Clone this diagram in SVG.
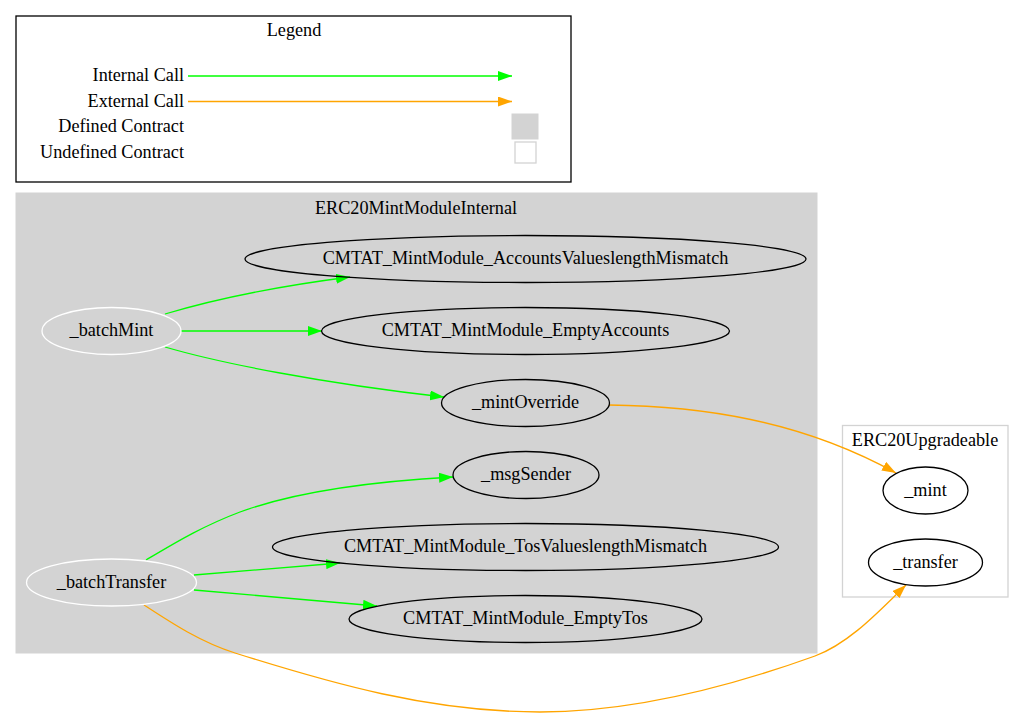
<svg xmlns="http://www.w3.org/2000/svg" width="1014" height="717" viewBox="0 0 1014 717">
  <style>
    text { font-family: "Liberation Serif", "Times New Roman", serif; font-size: 18.2px; fill: #000; }
    .mid { text-anchor: middle; }
    .end { text-anchor: end; }
    .node { fill: none; stroke: #000; stroke-width: 1.3; }
    .entry { fill: none; stroke: #fff; stroke-width: 1.3; }
    .int { fill: none; stroke: #00ff00; stroke-width: 1.3; marker-end: url(#arrow-int); }
    .ext { fill: none; stroke: #ffa500; stroke-width: 1.3; marker-end: url(#arrow-ext); }
  </style>
  <defs>
    <marker id="arrow-int" viewBox="0 0 14 10" refX="14" refY="5" markerWidth="14" markerHeight="10" markerUnits="userSpaceOnUse" orient="auto">
      <path d="M0,0 L14,5 L0,10 z" fill="#00ff00"/>
    </marker>
    <marker id="arrow-ext" viewBox="0 0 14 10" refX="14" refY="5" markerWidth="14" markerHeight="10" markerUnits="userSpaceOnUse" orient="auto">
      <path d="M0,0 L14,5 L0,10 z" fill="#ffa500"/>
    </marker>
  </defs>

  <rect width="1014" height="717" fill="#fff"/>

  <!-- Legend -->
  <g id="legend">
    <rect x="16" y="16" width="555" height="166" fill="#fff" stroke="#000" stroke-width="1.3"/>
    <text class="mid" x="294" y="35.5">Legend</text>
    <text class="end" x="184" y="81">Internal Call</text>
    <text class="end" x="184" y="107">External Call</text>
    <text class="end" x="184" y="132">Defined Contract</text>
    <text class="end" x="184" y="158">Undefined Contract</text>
    <path class="int" d="M188,76 L512,76"/>
    <path class="ext" d="M188,101.5 L512,101.5"/>
    <rect x="512" y="114" width="26" height="25" fill="#d3d3d3" stroke="#d3d3d3"/>
    <rect x="515" y="142" width="21" height="21" fill="#fff" stroke="#d3d3d3" stroke-width="1.3"/>
  </g>

  <!-- Clusters -->
  <g id="cluster-ERC20MintModuleInternal">
    <rect x="16" y="193" width="801" height="460" fill="#d3d3d3" stroke="#d3d3d3"/>
    <text class="mid" x="416" y="214">ERC20MintModuleInternal</text>
  </g>
  <g id="cluster-ERC20Upgradeable">
    <rect x="842.5" y="425.5" width="165.5" height="171.5" fill="#fff" stroke="#d3d3d3" stroke-width="1.3"/>
    <text class="mid" x="925" y="446">ERC20Upgradeable</text>
  </g>

  <!-- Connectors -->
  <g id="edges">
    <path class="int" d="M165,314 C215,299 280,286 350,277"/>
    <path class="int" d="M181,331 L322,331"/>
    <path class="int" d="M165,347 C220,363 320,383 444,397"/>
    <path class="int" d="M146,560 C170,546 200,527 240,512 C300,490 380,481 453,477"/>
    <path class="int" d="M194,575 L340,563"/>
    <path class="int" d="M194,590 L377,606"/>
    <path class="ext" d="M144,605 C170,622 200,642 235,653 C330,683 430,712 540,712 C640,712 740,683 815,656 C850,643 880,610 906,585"/>
    <path class="ext" d="M609,405 C700,406 800,420 896,473"/>
  </g>

  <!-- Nodes -->
  <g id="node-batchMint">
    <ellipse class="entry" cx="111.5" cy="331" rx="69.5" ry="23.5"/>
    <text class="mid" x="111.5" y="336">_batchMint</text>
  </g>
  <g id="node-batchTransfer">
    <ellipse class="entry" cx="111.5" cy="582.5" rx="85" ry="23.5"/>
    <text class="mid" x="111.5" y="587.5">_batchTransfer</text>
  </g>
  <g id="node-AccountsValueslengthMismatch">
    <ellipse class="node" cx="525.5" cy="259" rx="280.5" ry="23.5"/>
    <text class="mid" x="525.5" y="264">CMTAT_MintModule_AccountsValueslengthMismatch</text>
  </g>
  <g id="node-EmptyAccounts">
    <ellipse class="node" cx="525.5" cy="331" rx="204" ry="23.5"/>
    <text class="mid" x="525.5" y="336">CMTAT_MintModule_EmptyAccounts</text>
  </g>
  <g id="node-mintOverride">
    <ellipse class="node" cx="525.5" cy="403" rx="84" ry="23.5"/>
    <text class="mid" x="525.5" y="408">_mintOverride</text>
  </g>
  <g id="node-msgSender">
    <ellipse class="node" cx="526" cy="475" rx="73" ry="23.5"/>
    <text class="mid" x="526" y="480">_msgSender</text>
  </g>
  <g id="node-TosValueslengthMismatch">
    <ellipse class="node" cx="525.5" cy="547" rx="253" ry="23.5"/>
    <text class="mid" x="525.5" y="552">CMTAT_MintModule_TosValueslengthMismatch</text>
  </g>
  <g id="node-EmptyTos">
    <ellipse class="node" cx="525.5" cy="619" rx="176.5" ry="23.5"/>
    <text class="mid" x="525.5" y="624">CMTAT_MintModule_EmptyTos</text>
  </g>
  <g id="node-mint">
    <ellipse class="node" cx="925.5" cy="490.5" rx="42.5" ry="23.5"/>
    <text class="mid" x="925.5" y="495.5">_mint</text>
  </g>
  <g id="node-transfer">
    <ellipse class="node" cx="925.5" cy="562.5" rx="57" ry="23.5"/>
    <text class="mid" x="925.5" y="567.5">_transfer</text>
  </g>
</svg>
